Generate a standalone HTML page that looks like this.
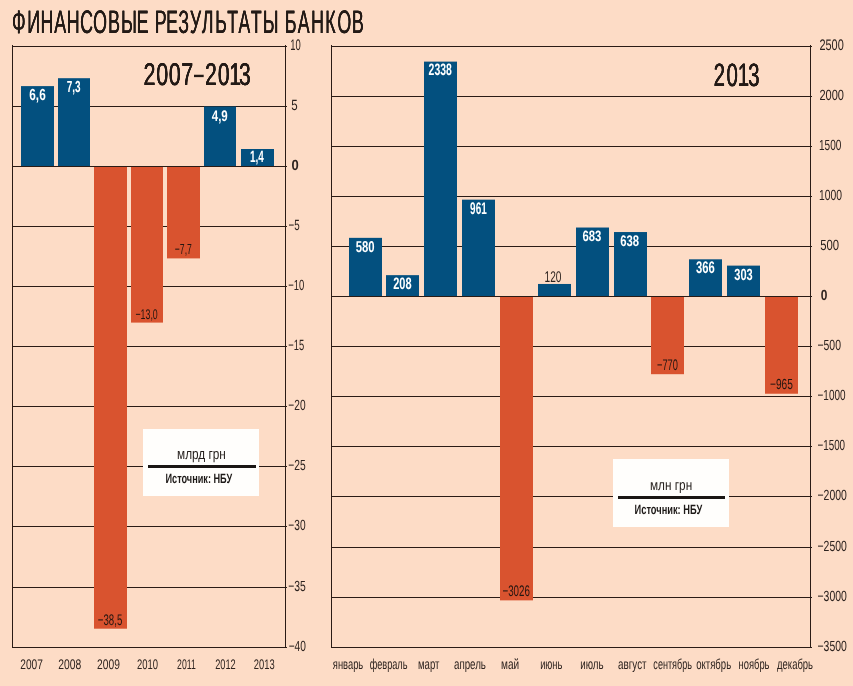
<!DOCTYPE html>
<html lang="ru"><head><meta charset="utf-8"><title>Финансовые результаты банков</title>
<style>html,body{margin:0;padding:0;background:#fddcc6;}svg{display:block;will-change:transform;}</style></head>
<body>
<svg width="853" height="686" viewBox="0 0 853 686" font-family="'Liberation Sans', Arial, sans-serif" font-size="100" text-rendering="geometricPrecision">
<rect width="853" height="686" fill="#fddcc6"/>
<rect x="12" y="46" width="275" height="1" fill="#2a1b15"/><rect x="12" y="106" width="275" height="1" fill="#2a1b15"/><rect x="12" y="166" width="275" height="1" fill="#2a1b15"/><rect x="12" y="226" width="275" height="1" fill="#2a1b15"/><rect x="12" y="286" width="275" height="1" fill="#2a1b15"/><rect x="12" y="346" width="275" height="1" fill="#2a1b15"/><rect x="12" y="406" width="275" height="1" fill="#2a1b15"/><rect x="12" y="466" width="275" height="1" fill="#2a1b15"/><rect x="12" y="526" width="275" height="1" fill="#2a1b15"/><rect x="12" y="587" width="275" height="1" fill="#2a1b15"/><rect x="12" y="647" width="275" height="1" fill="#2a1b15"/><rect x="331" y="46" width="481" height="1" fill="#2a1b15"/><rect x="331" y="96" width="481" height="1" fill="#2a1b15"/><rect x="331" y="146" width="481" height="1" fill="#2a1b15"/><rect x="331" y="196" width="481" height="1" fill="#2a1b15"/><rect x="331" y="246" width="481" height="1" fill="#2a1b15"/><rect x="331" y="296" width="481" height="1" fill="#2a1b15"/><rect x="331" y="346" width="481" height="1" fill="#2a1b15"/><rect x="331" y="396" width="481" height="1" fill="#2a1b15"/><rect x="331" y="446" width="481" height="1" fill="#2a1b15"/><rect x="331" y="496" width="481" height="1" fill="#2a1b15"/><rect x="331" y="547" width="481" height="1" fill="#2a1b15"/><rect x="331" y="597" width="481" height="1" fill="#2a1b15"/><rect x="331" y="647" width="481" height="1" fill="#2a1b15"/><rect x="12" y="45" width="1" height="603" fill="#2a1b15"/><rect x="285" y="45" width="1" height="603" fill="#2a1b15"/><rect x="331" y="45" width="1" height="603" fill="#2a1b15"/><rect x="810" y="45" width="1" height="603" fill="#2a1b15"/>
<rect x="21" y="86.1" width="33" height="79.9" fill="#03507f"/><rect x="58" y="78.2" width="32" height="87.8" fill="#03507f"/><rect x="94" y="167" width="33" height="461.70000000000005" fill="#d9532f"/><rect x="131" y="167" width="32" height="155.60000000000002" fill="#d9532f"/><rect x="167" y="167" width="33" height="91.39999999999998" fill="#d9532f"/><rect x="204" y="106.5" width="32" height="59.5" fill="#03507f"/><rect x="241" y="149" width="33" height="17" fill="#03507f"/><rect x="349" y="237.85" width="33" height="58.15" fill="#03507f"/><rect x="386" y="275.15" width="33" height="20.85" fill="#03507f"/><rect x="424" y="61.62" width="33" height="234.38" fill="#03507f"/><rect x="462" y="199.66" width="33" height="96.34" fill="#03507f"/><rect x="500" y="297" width="33" height="303.36" fill="#d9532f"/><rect x="538" y="283.97" width="33" height="12.03" fill="#03507f"/><rect x="576" y="227.53" width="33" height="68.47" fill="#03507f"/><rect x="614" y="232.04" width="33" height="63.96" fill="#03507f"/><rect x="651" y="297" width="33" height="77.19" fill="#d9532f"/><rect x="689" y="259.31" width="33" height="36.69" fill="#03507f"/><rect x="727" y="265.62" width="33" height="30.38" fill="#03507f"/><rect x="765" y="297" width="33" height="96.74" fill="#d9532f"/>
<rect x="143" y="429" width="116" height="67" fill="#fffefc"/><rect x="148" y="465" width="108" height="3" fill="#1a1614"/><rect x="613" y="459" width="116" height="68" fill="#fffefc"/><rect x="618" y="496" width="107" height="3" fill="#1a1614"/>
<text transform="translate(0 33.300) scale(0.17829 0.32413)" x="66.87 152.24 226.93 304.03 373.88 448.99 521.75 606.01 678.73 766.21" fill="#231a16" style="text-shadow:0.40px 0 0 #231a16,0.80px 0 0 #231a16">ФИНАНСОВЫЕ</text><text transform="translate(0 33.300) scale(0.17530 0.32413)" x="882.77 947.31 1016.85 1082.76 1151.39 1227.53 1295.80 1360.00 1431.00 1499.40" fill="#231a16" style="text-shadow:0.40px 0 0 #231a16,0.80px 0 0 #231a16">РЕЗУЛЬТАТЫ</text><text transform="translate(0 33.300) scale(0.17750 0.32413)" x="1604.31 1677.12 1752.08 1832.19 1900.62 1982.14" fill="#231a16" style="text-shadow:0.40px 0 0 #231a16,0.80px 0 0 #231a16">БАНКОВ</text><text transform="translate(0 85.492) scale(0.21434 0.31497)" x="669.22 728.94 787.26 845.53" fill="#231a16" style="text-shadow:0.30px 0 0 #231a16,0.60px 0 0 #231a16,0.90px 0 0 #231a16">2007</text><text transform="translate(194.000 84.657) scale(0.17500 0.35714)" fill="#231a16">–</text><text transform="translate(0 85.492) scale(0.21027 0.31497)" x="974.71 1035.59 1090.29 1136.23" fill="#231a16" style="text-shadow:0.30px 0 0 #231a16,0.60px 0 0 #231a16,0.90px 0 0 #231a16">2013</text><text transform="translate(0 85.986) scale(0.20317 0.32203)" x="3512.40 3575.65 3631.00 3682.01" fill="#231a16" style="text-shadow:0.30px 0 0 #231a16,0.60px 0 0 #231a16,0.90px 0 0 #231a16">2013</text><text transform="translate(290.240 49.648) scale(0.09495 0.15211)" fill="#2d231f">10</text><text transform="translate(291.340 110.451) scale(0.11489 0.14857)" fill="#2d231f">5</text><text transform="translate(291.581 170.454) scale(0.12979 0.14648)" font-weight="bold" fill="#2d231f">0</text><text transform="translate(288.410 230.451) scale(0.09810 0.14857)" fill="#2d231f">−5</text><text transform="translate(288.328 290.454) scale(0.09441 0.14648)" fill="#2d231f">−10</text><text transform="translate(288.331 350.451) scale(0.09375 0.14857)" fill="#2d231f">−15</text><text transform="translate(288.291 410.454) scale(0.10186 0.14648)" fill="#2d231f">−20</text><text transform="translate(288.288 470.454) scale(0.10250 0.14648)" fill="#2d231f">−25</text><text transform="translate(288.291 530.454) scale(0.10186 0.14648)" fill="#2d231f">−30</text><text transform="translate(288.284 591.454) scale(0.10312 0.14648)" fill="#2d231f">−35</text><text transform="translate(288.694 651.454) scale(0.10124 0.14648)" fill="#2d231f">−40</text><text transform="translate(819.453 49.648) scale(0.10939 0.15211)" fill="#2d231f">2500</text><text transform="translate(819.448 100.454) scale(0.11033 0.14648)" fill="#2d231f">2000</text><text transform="translate(818.992 150.454) scale(0.10095 0.14648)" fill="#2d231f">1500</text><text transform="translate(818.970 200.454) scale(0.10381 0.14648)" fill="#2d231f">1000</text><text transform="translate(820.147 250.454) scale(0.11321 0.14648)" fill="#2d231f">500</text><text transform="translate(820.823 300.454) scale(0.11915 0.14648)" font-weight="bold" fill="#2d231f">0</text><text transform="translate(817.479 350.454) scale(0.10417 0.14648)" fill="#2d231f">−500</text><text transform="translate(817.500 400.454) scale(0.10000 0.14648)" fill="#2d231f">−1000</text><text transform="translate(817.509 450.454) scale(0.09816 0.14648)" fill="#2d231f">−1500</text><text transform="translate(817.476 500.454) scale(0.10478 0.14648)" fill="#2d231f">−2000</text><text transform="translate(817.478 551.454) scale(0.10441 0.14648)" fill="#2d231f">−2500</text><text transform="translate(817.478 601.454) scale(0.10441 0.14648)" fill="#2d231f">−3000</text><text transform="translate(817.478 651.454) scale(0.10441 0.14648)" fill="#2d231f">−3500</text><text transform="translate(20.293 668.861) scale(0.10142 0.13944)" fill="#2d231f">2007</text><text transform="translate(58.284 668.861) scale(0.10329 0.13944)" fill="#2d231f">2008</text><text transform="translate(96.986 668.861) scale(0.10282 0.13944)" fill="#2d231f">2009</text><text transform="translate(136.926 668.861) scale(0.09484 0.13944)" fill="#2d231f">2010</text><text transform="translate(177.063 668.861) scale(0.08732 0.13944)" fill="#2d231f">2011</text><text transform="translate(215.138 668.861) scale(0.09245 0.13944)" fill="#2d231f">2012</text><text transform="translate(253.833 668.861) scale(0.09343 0.13944)" fill="#2d231f">2013</text><text transform="translate(332.806 669.000) scale(0.09373 0.14340)" fill="#2d231f">январь</text><text transform="translate(369.634 669.000) scale(0.09158 0.14340)" fill="#2d231f">февраль</text><text transform="translate(418.029 669.000) scale(0.09581 0.14340)" fill="#2d231f">март</text><text transform="translate(454.011 669.000) scale(0.09719 0.14340)" fill="#2d231f">апрель</text><text transform="translate(501.096 669.000) scale(0.10060 0.14340)" fill="#2d231f">май</text><text transform="translate(540.146 669.000) scale(0.09339 0.14340)" fill="#2d231f">июнь</text><text transform="translate(580.215 669.000) scale(0.09781 0.14340)" fill="#2d231f">июль</text><text transform="translate(618.107 669.000) scale(0.09824 0.14340)" fill="#2d231f">август</text><text transform="translate(653.336 669.000) scale(0.09091 0.14340)" fill="#2d231f">сентябрь</text><text transform="translate(696.218 669.000) scale(0.09552 0.14340)" fill="#2d231f">октябрь</text><text transform="translate(738.544 669.000) scale(0.09373 0.14340)" fill="#2d231f">ноябрь</text><text transform="translate(777.106 669.000) scale(0.09440 0.14340)" fill="#2d231f">декабрь</text><text transform="translate(29.330 100.300) scale(0.11756 0.16000)" font-weight="bold" fill="#ffffff">6,6</text><text transform="translate(66.700 92.300) scale(0.10000 0.16000)" font-weight="bold" fill="#ffffff">7,3</text><text transform="translate(211.770 121.306) scale(0.11504 0.15294)" font-weight="bold" fill="#ffffff">4,9</text><text transform="translate(249.900 162.154) scale(0.10000 0.16310)" font-weight="bold" fill="#ffffff">1,4</text><text transform="translate(97.714 624.711) scale(0.09713 0.15301)" fill="#241611">−38,5</text><text transform="translate(135.459 318.567) scale(0.08811 0.14096)" fill="#241611">−13,0</text><text transform="translate(174.872 253.913) scale(0.08556 0.14512)" fill="#241611">−7,7</text><text transform="translate(355.661 251.944) scale(0.11313 0.15634)" font-weight="bold" fill="#ffffff">580</text><text transform="translate(393.168 289.434) scale(0.11056 0.16620)" font-weight="bold" fill="#ffffff">208</text><text transform="translate(428.587 75.335) scale(0.10417 0.16479)" font-weight="bold" fill="#ffffff">2338</text><text transform="translate(470.103 213.531) scale(0.09937 0.16901)" font-weight="bold" fill="#ffffff">961</text><text transform="translate(502.513 595.546) scale(0.09742 0.15352)" fill="#241611">−3026</text><text transform="translate(544.590 282.245) scale(0.10129 0.15493)" fill="#2d231f">120</text><text transform="translate(582.447 241.451) scale(0.11321 0.14930)" font-weight="bold" fill="#ffffff">683</text><text transform="translate(620.145 246.146) scale(0.11375 0.15352)" font-weight="bold" fill="#ffffff">638</text><text transform="translate(657.037 369.546) scale(0.09259 0.15352)" fill="#241611">−770</text><text transform="translate(696.062 273.232) scale(0.11250 0.16761)" font-weight="bold" fill="#ffffff">366</text><text transform="translate(734.370 279.738) scale(0.11000 0.16197)" font-weight="bold" fill="#ffffff">303</text><text transform="translate(769.991 388.855) scale(0.10185 0.14507)" fill="#241611">−965</text><text transform="translate(177.076 458.700) scale(0.11775 0.15094)" fill="#231d1a">млрд грн</text><text transform="translate(165.459 483.466) scale(0.09155 0.13429)" font-weight="bold" fill="#1e1a18">Источник: НБУ</text><text transform="translate(649.974 489.800) scale(0.11802 0.14717)" fill="#231d1a">млн грн</text><text transform="translate(634.550 514.266) scale(0.09280 0.13429)" font-weight="bold" fill="#1e1a18">Источник: НБУ</text>
</svg>
</body></html>
